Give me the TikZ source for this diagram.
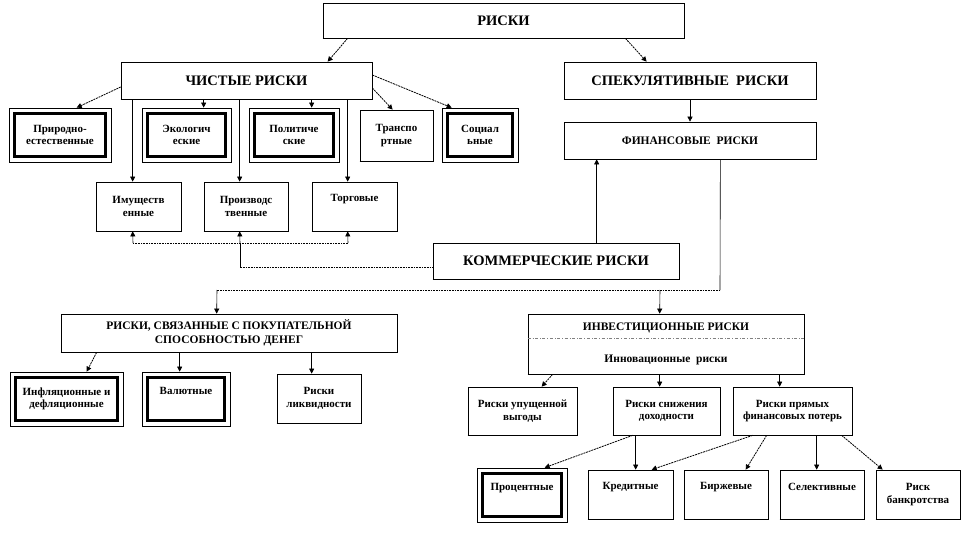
\documentclass[tikz,border=0pt]{standalone}
\usepackage{fontspec}
\setmainfont{Liberation Serif}
\usetikzlibrary{arrows.meta}

\begin{document}
\begin{tikzpicture}[x=1pt,y=-1pt,
 base/.style={draw,line width=0.7pt,fill=white,align=center,inner sep=1pt,
   font=\bfseries\fontsize{11}{12.5}\selectfont},
 box/.style={base,append after command={(\tikzlastnode.south west)
   edge[dash pattern=on 1pt off 0.6pt,line width=1.4pt] (\tikzlastnode.south east)}},
 big/.style={box,font=\bfseries\fontsize{14.5}{16}\selectfont},
 mid/.style={box,font=\bfseries\fontsize{11.5}{13.5}\selectfont},
 frame/.style={base,path picture={\draw[line width=3.5pt]
   ([shift={(5.5pt,-5.5pt)}]path picture bounding box.north west) rectangle
   ([shift={(-5.5pt,5.5pt)}]path picture bounding box.south east);}},
 arrow/.style={-{Triangle[length=5pt,width=5pt]},line width=0.6pt},
 darrow/.style={arrow,dash pattern=on 2pt off 0.8pt,line width=0.8pt},
 hline/.style={dash pattern=on 1pt off 0.6pt,line width=1pt}]
\useasboundingbox (0,0) rectangle (963,543);
% top levels
\node[big,minimum width=361pt,minimum height=35pt] (top) at (503.5,20.5) {РИСКИ};
\node[big,minimum width=251pt,minimum height=37pt] (chist) at (246.5,80.5) {ЧИСТЫЕ РИСКИ};
\node[big,minimum width=252pt,minimum height=37pt] (spek) at (690,80.5) {СПЕКУЛЯТИВНЫЕ~~РИСКИ};
\node[mid,minimum width=252pt,minimum height=37pt] (fin) at (690,140.5) {ФИНАНСОВЫЕ~~РИСКИ};
% pure risks
\node[frame,minimum width=102pt,minimum height=54pt] (prir) at (60,135) {Природно-\\естественные};
\node[frame,minimum width=89pt,minimum height=54pt] (ekol) at (186.5,135) {Экологич\\еские};
\node[frame,minimum width=90pt,minimum height=54pt] (polit) at (294,135) {Политиче\\ские};
\node[box,minimum width=73pt,minimum height=51pt] (trans) at (396.5,135.5) {Транспо\\ртные};
\node[frame,minimum width=76pt,minimum height=54pt] (soc) at (480,135) {Социал\\ьные};
\node[box,minimum width=85pt,minimum height=49pt] (imush) at (138.5,206.5) {Имуществ\\енные};
\node[box,minimum width=84pt,minimum height=49pt] (proizv) at (246,206.5) {Производс\\твенные};
\node[box,minimum width=85pt,minimum height=49pt] (torg) at (354.5,206.5) {Торговые\\\strut};
\node[big,minimum width=246pt,minimum height=36pt] (komm) at (556,261) {КОММЕРЧЕСКИЕ РИСКИ};
% speculative risks
\node[mid,minimum width=336pt,minimum height=38pt] (pokup) at (229,333)
  {РИСКИ, СВЯЗАННЫЕ С ПОКУПАТЕЛЬНОЙ\\СПОСОБНОСТЬЮ ДЕНЕГ};
\node[frame,minimum width=113pt,minimum height=54pt] (infl) at (66.5,399) {Инфляционные и\\дефляционные};
\node[frame,minimum width=88pt,minimum height=54pt] (valut) at (186,399) {Валютные\\\strut};
\node[box,minimum width=84pt,minimum height=49pt] (likv) at (319,398.5) {Риски\\ликвидности};
\node[mid,minimum width=276pt,minimum height=60pt] (invest) at (666,344)
  {ИНВЕСТИЦИОННЫЕ РИСКИ\\[19pt]Инновационные~~риски};
\node[box,minimum width=109pt,minimum height=48pt] (upush) at (522.5,411) {Риски упущенной\\выгоды};
\node[box,minimum width=107pt,minimum height=48pt] (snizh) at (666.5,411) {Риски снижения\\доходности};
\node[box,minimum width=119pt,minimum height=48pt] (pryam) at (792.5,411) {Риски прямых\\финансовых потерь};
\node[frame,minimum width=90pt,minimum height=54pt] (proc) at (522,495) {Процентные\\\strut};
\node[box,minimum width=85pt,minimum height=49pt] (kred) at (630.5,494.5) {Кредитные\\\strut};
\node[box,minimum width=84pt,minimum height=49pt] (birzh) at (726,494.5) {Биржевые\\\strut};
\node[box,minimum width=84pt,minimum height=49pt] (selek) at (822,494.5) {Селективные\\\strut};
\node[box,minimum width=84pt,minimum height=49pt] (bankr) at (918,494.5) {Риск\\банкротства};
\draw[gray,dashdotted,line width=0.6pt] ([yshift=-25pt]invest.north west) -- ([yshift=-25pt]invest.north east);
\coordinate (busl) at (133,243);
\coordinate (bus) at (240,243);
\coordinate (busr) at (348,243);
\coordinate (kc) at (240,267);
\coordinate (fork) at (720,290);
\coordinate (forkl) at (217,290);
\coordinate (forkr) at (660,290);
% connectors
\draw[darrow] ([xshift=25pt]top.south west) -- ([xshift=207pt]chist.north west);
\draw[darrow] ([xshift=-59pt]top.south east) -- ([xshift=83pt]spek.north west);
\draw[arrow] (spek) -- (fin);
\draw[darrow] ([yshift=-6.5pt]chist.west) -- ([xshift=68pt]prir.north west);
\draw[arrow] ([xshift=83pt]chist.south west) -- ([xshift=62pt]ekol.north west);
\draw[arrow] ([xshift=191pt]chist.south west) -- ([xshift=63pt]polit.north west);
\draw[darrow] ([yshift=-7.5pt]chist.east) -- ([xshift=33pt]trans.north west);
\draw[darrow] ([yshift=5.5pt]chist.east) -- ([xshift=10pt]soc.north west);
\draw[arrow] ([xshift=12pt]chist.south west) -- ([xshift=37pt]imush.north west);
\draw[arrow] ([xshift=119pt]chist.south west) -- ([xshift=36pt]proizv.north west);
\draw[arrow] ([xshift=227pt]chist.south west) -- ([xshift=36pt]torg.north west);
\draw[hline] ([yshift=-6pt]komm.west) -- (kc);
\draw[line width=0.6pt] (kc) -- (bus);
\draw[hline] (busl) -- (busr);
\draw[arrow] (bus) -- ([xshift=36pt]proizv.south west);
\draw[arrow] (busl) -- ([xshift=37pt]imush.south west);
\draw[arrow] (busr) -- ([xshift=36pt]torg.south west);
\draw[arrow] ([xshift=164pt]komm.north west) -- ([xshift=33pt]fin.south west);
\draw[line width=0.6pt] ([xshift=-96pt]fin.south east) -- (fork);
\draw[hline] (fork) -- (forkl);
\draw[arrow] (forkl) -- ([xshift=156pt]pokup.north west);
\draw[arrow] (forkr) -- ([xshift=132pt]invest.north west);
\draw[darrow] ([xshift=36pt]pokup.south west) -- ([xshift=77pt]infl.north west);
\draw[arrow] ([xshift=119pt]pokup.south west) -- ([xshift=38pt]valut.north west);
\draw[arrow] ([xshift=251pt]pokup.south west) -- ([xshift=35pt]likv.north west);
\draw[darrow] ([xshift=25pt]invest.south west) -- ([xshift=74pt]upush.north west);
\draw[arrow] ([xshift=132pt]invest.south west) -- ([xshift=47pt]snizh.north west);
\draw[arrow] ([xshift=252pt]invest.south west) -- ([xshift=47pt]pryam.north west);
\draw[darrow] ([xshift=20pt]snizh.south west) -- ([xshift=68pt]proc.north west);
\draw[arrow] ([xshift=23pt]snizh.south west) -- ([xshift=48pt]kred.north west);
\draw[darrow] ([xshift=20pt]pryam.south west) -- ([xshift=64pt]kred.north west);
\draw[darrow] ([xshift=34pt]pryam.south west) -- ([xshift=62pt]birzh.north west);
\draw[arrow] ([xshift=84pt]pryam.south west) -- ([xshift=37pt]selek.north west);
\draw[darrow] ([xshift=109pt]pryam.south west) -- ([xshift=7pt]bankr.north west);
\end{tikzpicture}
\end{document}
